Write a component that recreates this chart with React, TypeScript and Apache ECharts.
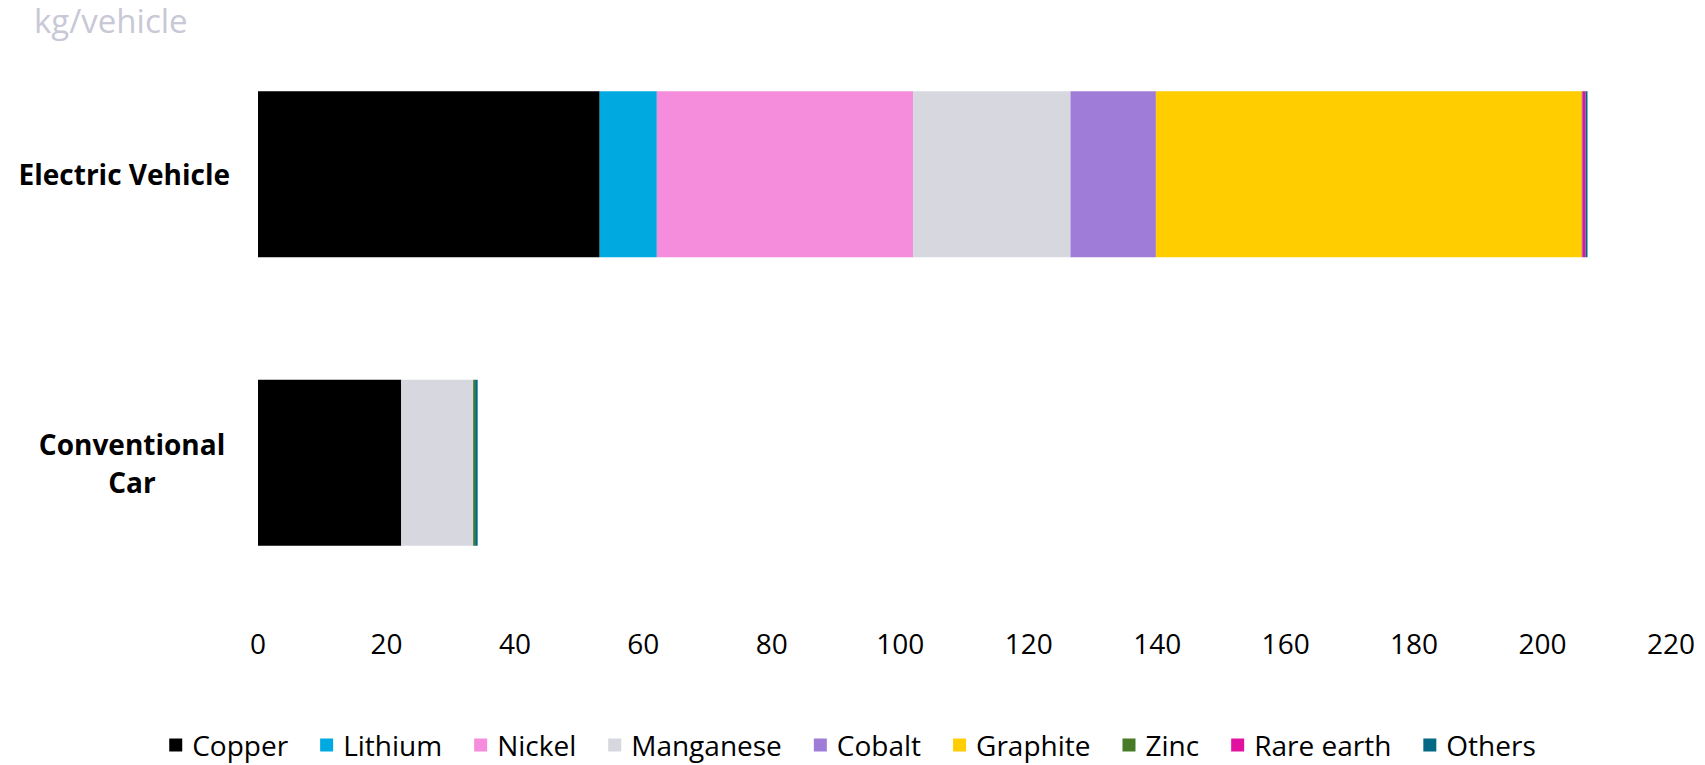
import React, { useEffect, useRef } from "react";
import * as echarts from "echarts";

const categories = ["Electric Vehicle", "Conventional Car"];
const seriesNames = ["Copper", "Lithium", "Nickel", "Manganese", "Cobalt", "Graphite", "Zinc", "Rare earth", "Others"];
const copper = [53.2, 22.3];
const lithium = [8.9, 0];
const nickel = [39.9, 0];
const manganese = [24.5, 11.2];
const cobalt = [13.3, 0];
const graphite = [66.3, 0];
const zinc = [0.1, 0.3];
const rareEarth = [0.5, 0];
const others = [0.3, 0.4];
const seriesValues = [copper, lithium, nickel, manganese, cobalt, graphite, zinc, rareEarth, others];
const colors = ["#000000", "#00a9e0", "#f58ddc", "#d7d7e0", "#a07cd9", "#ffcd00", "#477a24", "#e0129f", "#006986"];
const unitLabel = "kg/vehicle";

const FONT = "'Open Sans', 'Noto Sans', sans-serif";

export default function App() {
  const ref = useRef<HTMLDivElement>(null);
  useEffect(() => {
    if (!ref.current) return;
    const chart = echarts.init(ref.current, undefined, { renderer: "svg" });
    chart.setOption({
      animation: false,
      backgroundColor: "#ffffff",
      title: {
        text: unitLabel,
        left: 34,
        top: 2,
        padding: 0,
        textStyle: { fontFamily: FONT, fontSize: 33, fontWeight: "normal", color: "#c8c8d6", lineHeight: 36 },
      },
      legend: {
        bottom: 1,
        left: "center",
        itemWidth: 13,
        itemHeight: 13,
        itemGap: 32,
        icon: "rect",
        textStyle: { fontFamily: FONT, fontSize: 28, color: "#000", padding: [0, 0, 0, 5] },
        data: seriesNames,
      },
      grid: { left: 258, right: 34, top: 30, bottom: 158 },
      xAxis: {
        type: "value",
        min: 0,
        max: 220,
        interval: 20,
        axisLine: { show: false },
        axisTick: { show: false },
        splitLine: { show: false },
        axisLabel: { fontFamily: FONT, fontSize: 28, color: "#000", margin: 22 },
      },
      yAxis: {
        type: "category",
        inverse: true,
        data: categories,
        axisLine: { show: false },
        axisTick: { show: false },
        axisLabel: {
          fontFamily: FONT,
          fontSize: 28,
          fontWeight: "bold",
          color: "#000",
          margin: 28,
          align: "right",
          formatter: (v: string) => (v === "Conventional Car" ? "{c|Conventional}\n{c|Car}" : v),
          rich: {
            c: {
              fontFamily: FONT,
              fontSize: 28,
              fontWeight: "bold",
              color: "#000",
              width: 196,
              align: "center",
              lineHeight: 38,
            },
          },
        },
      },
      series: seriesNames.map((name, i) => ({
        name,
        type: "bar",
        stack: "total",
        barWidth: 166,
        itemStyle: { color: colors[i] },
        data: seriesValues[i],
      })),
    });
    return () => chart.dispose();
  }, []);
  return <div ref={ref} style={{ position: "absolute", left: 0, top: 0, width: 1705, height: 765 }} />;
}
